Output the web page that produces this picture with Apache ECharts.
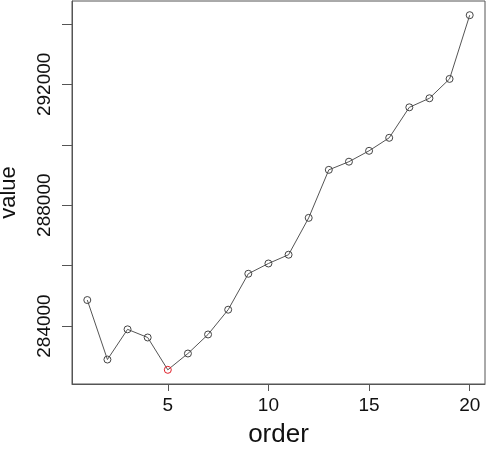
<!DOCTYPE html>
<html>
<head>
<meta charset="utf-8">
<script src="https://cdn.jsdelivr.net/npm/echarts@6/dist/echarts.min.js"></script>
<style>
  html, body { margin: 0; padding: 0; background: #fff; }
  #chart { width: 487px; height: 450px; }
</style>
</head>
<body>
<div id="chart"></div>
<script>
// order index and observed values
const order = [1, 2, 3, 4, 5, 6, 7, 8, 9, 10, 11, 12, 13, 14, 15, 16, 17, 18, 19, 20];
const values = [284860, 282890, 283890, 283620, 282550, 283090, 283720, 284540, 285730, 286070,
                286360, 287580, 289170, 289440, 289800, 290230, 291240, 291540, 292180, 294290];
const highlightIndex = 4; // the minimum, drawn in red

const xTicks = [5, 10, 15, 20];
const yTicks = [284000, 286000, 288000, 290000, 292000, 294000];
const yLabels = [284000, 288000, 292000];

// axis range padded 4% on each side
const yMinData = Math.min(...values), yMaxData = Math.max(...values);
const yPad = (yMaxData - yMinData) * 0.04;
const xPad = (order[order.length - 1] - order[0]) * 0.04;

const font = 'Liberation Sans, Arial, Helvetica, sans-serif';

const points = order.map((o, i) => ({
  value: [o, values[i]],
  itemStyle: i === highlightIndex ? { borderColor: '#e0202a' } : undefined
}));

const chart = echarts.init(document.getElementById('chart'), null, { renderer: 'canvas' });
chart.setOption({
  animation: false,
  backgroundColor: '#fff',
  grid: {
    left: 72, right: 2, top: 1, bottom: 66,
    show: true, borderColor: '#555', borderWidth: 1,
    containLabel: false, outerBoundsMode: 'none'
  },
  xAxis: {
    type: 'value',
    min: order[0] - xPad,
    max: order[order.length - 1] + xPad,
    name: 'order',
    nameLocation: 'middle',
    nameGap: 38,
    nameTextStyle: { fontFamily: font, fontSize: 26, color: '#111' },
    axisLine: { show: true, lineStyle: { color: '#555', width: 1 } },
    axisTick: { show: true, length: 7, customValues: xTicks, lineStyle: { color: '#555' } },
    axisLabel: { customValues: xTicks, margin: 12, fontFamily: font, fontSize: 19, color: '#111' },
    splitLine: { show: false }
  },
  yAxis: {
    type: 'value',
    min: yMinData - yPad,
    max: yMaxData + yPad,
    name: 'value',
    nameLocation: 'middle',
    nameGap: 52,
    nameTextStyle: { fontFamily: font, fontSize: 22, color: '#111' },
    axisLine: { show: true, lineStyle: { color: '#555', width: 1 } },
    axisTick: { show: true, length: 10, customValues: yTicks, lineStyle: { color: '#555' } },
    axisLabel: {
      customValues: yLabels, rotate: 90, margin: 18,
      formatter: v => String(v),
      fontFamily: font, fontSize: 19, color: '#111'
    },
    splitLine: { show: false }
  },
  series: [{
    type: 'line',
    data: points,
    symbol: 'circle',
    symbolSize: 7,
    showAllSymbol: true,
    lineStyle: { color: '#555', width: 1 },
    itemStyle: { color: 'rgba(255,255,255,0)', borderColor: '#444', borderWidth: 1 },
    emphasis: { disabled: true }
  }]
});
</script>
</body>
</html>
